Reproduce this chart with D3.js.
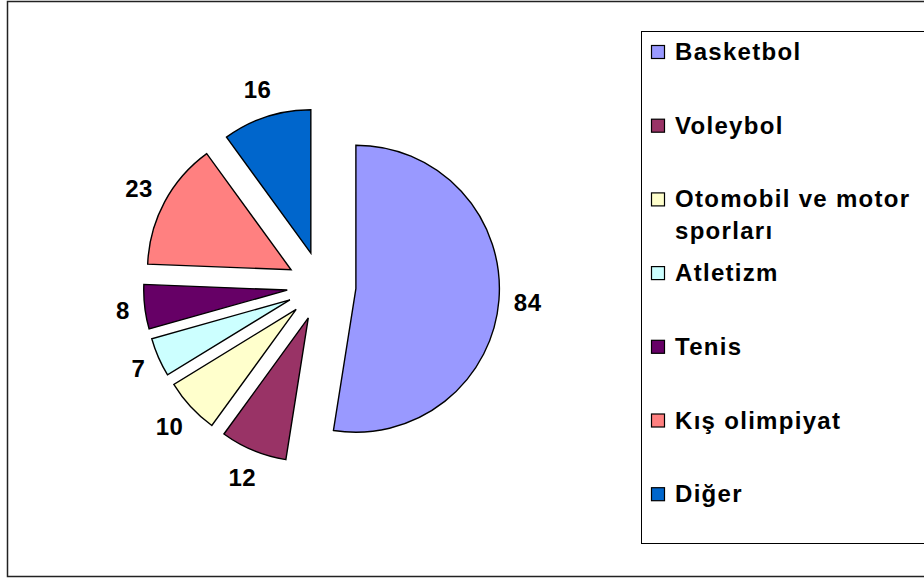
<!DOCTYPE html>
<html>
<head>
<meta charset="utf-8">
<script src="https://cdn.jsdelivr.net/npm/d3@7"></script>
<style>
  html, body { margin: 0; padding: 0; background: #fff; }
  svg { display: block; }
  text { font-family: "Liberation Sans", Arial, Helvetica, sans-serif; font-weight: bold; }
</style>
</head>
<body>
<svg id="chart" width="924" height="580"></svg>
<script>
// Sport categories, their counts and slice colours
const categories = ["Basketbol", "Voleybol", "Otomobil ve motor sporları", "Atletizm", "Tenis", "Kış olimpiyat", "Diğer"];
const legendLines = [["Basketbol"], ["Voleybol"], ["Otomobil ve motor", "sporları"], ["Atletizm"], ["Tenis"], ["Kış olimpiyat"], ["Diğer"]];
const values = [84, 12, 10, 7, 8, 23, 16];
const colors = ["#9999FF", "#993366", "#FFFFCC", "#CCFFFF", "#660066", "#FF8080", "#0066CC"];

const svg = d3.select("#chart");
const W = 924, H = 580;

// outer chart frame
svg.append("rect")
  .attr("x", 7.5).attr("y", 1.5)
  .attr("width", W + 10).attr("height", 575)
  .attr("fill", "#fff").attr("stroke", "#222").attr("stroke-width", 1.5);

// pie geometry
const cx = 321.5, cy = 286;
const radius = 143.5;
const explode = 34.5;
const labelGap = 193;
const capH = 17, boxH = 28;

const data = categories.map((c, i) => ({ name: c, value: values[i], color: colors[i] }));
const pie = d3.pie().value(d => d.value).sort(null).startAngle(0).endAngle(2 * Math.PI);
const arcs = pie(data);
const arc = d3.arc().innerRadius(0).outerRadius(radius);

const g = svg.append("g").attr("transform", `translate(${cx},${cy})`);

const slices = g.selectAll("g.slice").data(arcs).enter().append("g")
  .attr("class", "slice")
  .attr("transform", d => {
    const mid = (d.startAngle + d.endAngle) / 2;
    return `translate(${explode * Math.sin(mid)},${-explode * Math.cos(mid)})`;
  });

slices.append("path")
  .attr("d", arc)
  .attr("fill", d => d.data.color)
  .attr("stroke", "#000")
  .attr("stroke-width", 1.4)
  .attr("stroke-linejoin", "miter");

// value labels outside each slice
const labels = g.selectAll("text.val").data(arcs).enter().append("text")
  .attr("class", "val")
  .attr("font-size", 24)
  .attr("letter-spacing", 0.5)
  .attr("text-anchor", "middle")
  .attr("fill", "#000")
  .text(d => d.data.value);

labels.each(function(d) {
  const mid = (d.startAngle + d.endAngle) / 2;
  const dx = Math.sin(mid), dy = -Math.cos(mid);
  const w = this.getComputedTextLength();
  const x = dx * labelGap + dx * w / 2;
  const y = dy * labelGap + dy * boxH / 2;
  d3.select(this).attr("x", x).attr("y", y + capH / 2);
});

// legend
const legX = 641.5, legY = 31.5;
svg.append("rect")
  .attr("x", legX).attr("y", legY)
  .attr("width", W).attr("height", 512)
  .attr("fill", "#fff").attr("stroke", "#000").attr("stroke-width", 1);

const firstBase = 60, step = 73.7, lineH = 32;
const items = svg.selectAll("g.leg").data(data).enter().append("g").attr("class", "leg");
items.append("rect")
  .attr("x", 651.5)
  .attr("y", (d, i) => firstBase + i * step - 14.5)
  .attr("width", 13).attr("height", 13)
  .attr("fill", d => d.color)
  .attr("stroke", "#000").attr("stroke-width", 1.2);
items.each(function(d, i) {
  const t = d3.select(this).append("text")
    .attr("x", 675)
    .attr("y", firstBase + i * step)
    .attr("font-size", 24)
    .attr("letter-spacing", 1.3)
    .attr("fill", "#000");
  legendLines[i].forEach((ln, k) => {
    t.append("tspan").attr("x", 675).attr("y", firstBase + i * step + k * lineH).text(ln);
  });
});
</script>
</body>
</html>
